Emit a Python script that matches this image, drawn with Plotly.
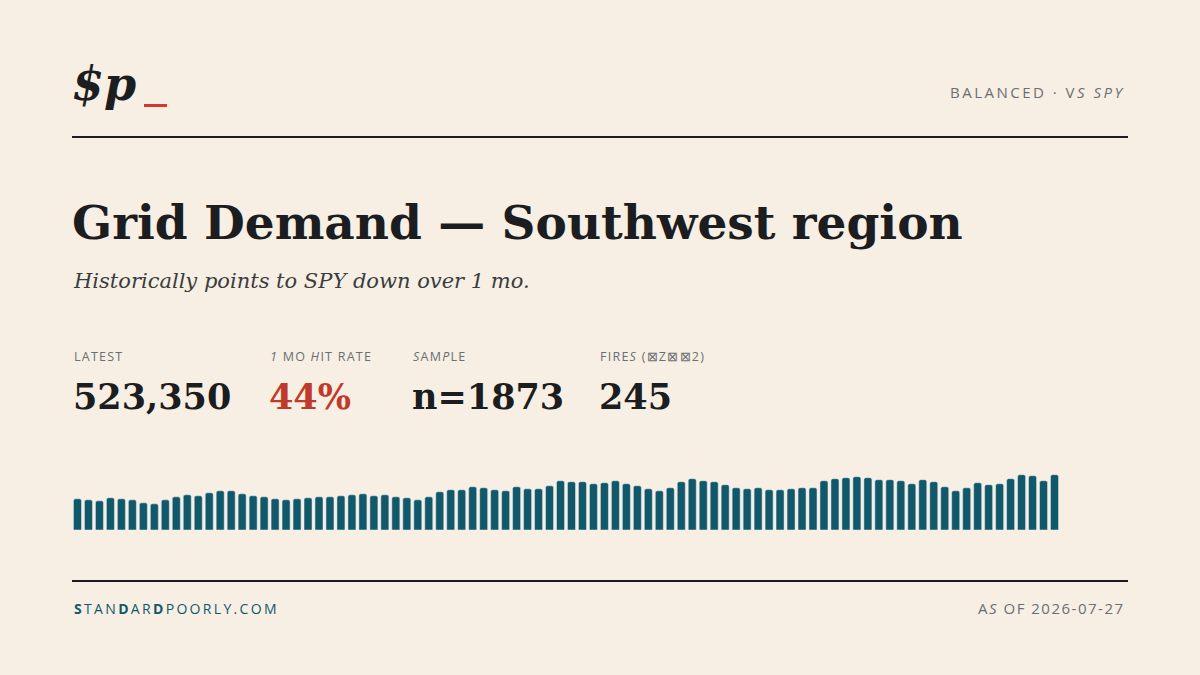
import re
import plotly.graph_objects as go

# relative demand levels (90 periods)
demand = [93, 90, 87, 96, 93, 90, 81, 78, 90, 99, 105, 102, 111, 117, 117, 108, 102, 99, 93, 90,
          93, 96, 99, 99, 102, 105, 108, 102, 105, 99, 96, 90, 99, 114, 120, 120, 129, 126, 120, 117,
          129, 123, 123, 132, 147, 144, 144, 138, 141, 147, 138, 132, 123, 117, 126, 144, 153, 147, 144, 135,
          126, 123, 126, 120, 120, 123, 126, 126, 147, 153, 156, 159, 156, 150, 150, 147, 138, 150, 144, 129,
          117, 126, 141, 135, 138, 153, 165, 162, 147, 165]
periods = list(range(len(demand)))

stat_labels = ["LATEST", "<i>1</i> MO <i>H</i>IT RATE", "<i>S</i>AM<i>P</i>LE", "FIRE<i>S</i> (⊠Z⊠⊠2)"]
stat_values = ["523,350", "44%", "n=1873", "245"]
stat_x = [72, 268, 411, 598]
stat_colors = ["#1b1d21", "#c0392b", "#1b1d21", "#1b1d21"]

BG = "#f7efe3"
TEAL = "#11596a"
INK = "#1b1d21"
GRAY = "#6b6e74"
SERIF = "DejaVu Serif"
SANS = "Open Sans"


def spaced(text, gap="\u200a"):
    # fake letter-spacing: put a hair space between visible characters, leave tags alone
    parts = re.split(r"(<[^>]+>)", text)
    out = []
    for p in parts:
        if p.startswith("<"):
            out.append(p)
        else:
            out.append(gap.join(p) + (gap if p else ""))
    return "".join(out)


fig = go.Figure(go.Bar(x=periods, y=demand, marker_color=TEAL, hoverinfo="skip"))

W, H = 1200, 675
def px(x):
    return x / W
def py(y):
    return 1 - y / H

fig.update_layout(
    width=W, height=H, margin=dict(l=0, r=0, t=0, b=0),
    paper_bgcolor=BG, plot_bgcolor=BG, showlegend=False,
    bargap=0.27, barcornerradius=2,
    xaxis=dict(domain=[px(72), px(1060)], range=[-0.5, 89.5], visible=False, fixedrange=True),
    yaxis=dict(domain=[py(530), py(474)], range=[0, 167], visible=False, fixedrange=True),
)

shapes = [
    dict(type="line", xref="paper", yref="paper", x0=px(72), x1=px(1128), y0=py(137), y1=py(137),
         line=dict(color=INK, width=2)),
    dict(type="line", xref="paper", yref="paper", x0=px(72), x1=px(1128), y0=py(581), y1=py(581),
         line=dict(color=INK, width=2)),
    dict(type="rect", xref="paper", yref="paper", x0=px(144), x1=px(167), y0=py(107), y1=py(104),
         fillcolor="#d0392b", line=dict(width=0)),
]
fig.update_layout(shapes=shapes)

def note(x, y, text, size, color, family, xanchor="left", yanchor="middle"):
    fig.add_annotation(x=px(x), y=py(y), xref="paper", yref="paper", text=text, showarrow=False,
                       xanchor=xanchor, yanchor=yanchor, font=dict(size=size, color=color, family=family))

note(70, 84, "<b><i>$p</i></b>", 46, INK, SERIF)
note(1127, 92, spaced("BALANCED · V<i>S SPY</i>", "\u2009"), 15, GRAY, SANS, xanchor="right")
note(70, 222, "<b>Grid Demand — Southwest region</b>", 47, INK, SERIF)
note(71, 281, "<i>Historically points to SPY down over 1 mo.</i>", 21, "#3a3c40", SERIF)

for lab, val, x, c in zip(stat_labels, stat_values, stat_x, stat_colors):
    note(x, 356, spaced(lab), 12.5, GRAY, SANS)
    note(x - 1, 396, "<b>" + val + "</b>", 35, c, SERIF)

note(72, 608, spaced("<b>S</b>TAN<b>D</b>AR<b>D</b>POORLY.COM", "\u2009"), 14, TEAL, SANS)
note(1127, 608, spaced("A<i>S</i> OF 2026-07-27", "\u200a"), 15, GRAY, SANS, xanchor="right")

fig.write_html("out.html", config={"displayModeBar": False},
               post_script="document.body.style.margin='0';")
